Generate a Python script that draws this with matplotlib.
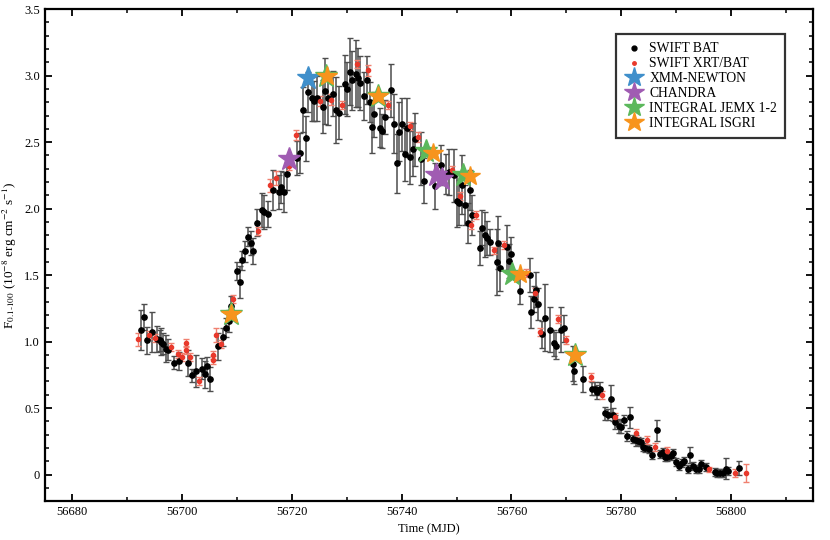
import numpy as np
import matplotlib
matplotlib.use("Agg")
import matplotlib.pyplot as plt
from matplotlib.ticker import MultipleLocator
from matplotlib.lines import Line2D

plt.rcParams['font.family'] = ['Liberation Serif', 'DejaVu Serif']
plt.rcParams['mathtext.fontset'] = 'stix'

# SWIFT BAT (MJD, flux, error)
bat_t = [56692.5, 56693.0, 56693.6, 56694.5, 56695.5, 56695.9, 56696.2, 56696.6, 56697.0, 56697.5,
         56698.6, 56699.5, 56701.0, 56701.9, 56702.5, 56703.6, 56704.1, 56704.5, 56705.1, 56706.5,
         56707.5, 56708.0, 56708.5, 56709.0, 56710.0, 56710.6, 56711.0, 56711.5, 56712.0, 56712.5,
         56713.0, 56713.6, 56714.5, 56715.0, 56715.6, 56716.5, 56717.6, 56718.0, 56718.6, 56719.1,
         56721.0, 56721.5, 56722.1, 56722.5, 56723.0, 56723.6, 56724.1, 56724.5, 56725.6, 56726.0,
         56726.5, 56727.5, 56728.0, 56728.6, 56729.6, 56730.0, 56730.5, 56731.0, 56731.6, 56732.0,
         56732.5, 56733.1, 56733.6, 56734.2, 56734.6, 56735.0, 56736.0, 56736.5, 56737.0, 56738.1,
         56738.6, 56739.1, 56739.6, 56740.0, 56740.6, 56741.0, 56741.5, 56742.1, 56742.5, 56743.5,
         56744.1, 56746.1, 56747.1, 56748.1, 56748.6, 56749.6, 56750.0, 56750.5, 56751.0, 56751.5,
         56752.1, 56752.5, 56752.9, 56754.2, 56754.7, 56755.1, 56755.6, 56756.1, 56757.3, 56757.6,
         56758.0, 56759.1, 56759.6, 56760.0, 56761.5, 56763.3, 56763.6, 56764.1, 56764.5, 56764.9,
         56765.6, 56766.2, 56767.1, 56767.7, 56768.1, 56769.1, 56769.6, 56771.3, 56771.4, 56773.1,
         56774.7, 56775.3, 56775.6, 56776.1, 56777.1, 56777.6, 56778.2, 56778.5, 56778.9, 56779.5,
         56780.0, 56780.5, 56781.0, 56781.6, 56782.1, 56782.7, 56783.1, 56783.6, 56783.9, 56784.4,
         56785.0, 56785.6, 56786.6, 56787.0, 56787.6, 56788.0, 56788.4, 56789.0, 56789.5, 56790.0,
         56790.5, 56791.0, 56791.5, 56792.1, 56792.5, 56793.0, 56793.6, 56794.1, 56794.5, 56795.5,
         56797.0, 56797.5, 56798.0, 56798.5, 56799.1, 56799.5, 56801.5]
bat_f = [1.085, 1.185, 1.01, 1.07, 1.02, 1.01, 1.00, 0.985, 0.947, 0.94,
         0.84, 0.854, 0.84, 0.747, 0.777, 0.797, 0.754, 0.814, 0.72, 0.965,
         1.035, 1.105, 1.155, 1.27, 1.53, 1.45, 1.61, 1.68, 1.79, 1.74,
         1.68, 1.895, 1.99, 1.975, 1.96, 2.14, 2.125, 2.16, 2.125, 2.26,
         2.38, 2.42, 2.745, 2.53, 2.88, 2.83, 2.81, 2.83, 2.765, 2.885,
         2.83, 2.865, 2.74, 2.72, 2.935, 2.90, 3.03, 2.965, 3.015, 2.985,
         2.945, 2.85, 2.965, 2.80, 2.615, 2.71, 2.61, 2.585, 2.69, 2.89,
         2.64, 2.34, 2.58, 2.635, 2.41, 2.61, 2.385, 2.445, 2.52, 2.375,
         2.21, 2.17, 2.33, 2.26, 2.275, 2.25, 2.06, 2.045, 2.18, 2.025,
         1.89, 2.14, 1.955, 1.705, 1.857, 1.805, 1.78, 1.75, 1.60, 1.745,
         1.55, 1.71, 1.605, 1.655, 1.38, 1.50, 1.22, 1.32, 1.39, 1.28,
         1.055, 1.18, 1.09, 0.99, 0.97, 1.09, 1.10, 0.835, 0.78, 0.72,
         0.645, 0.645, 0.62, 0.645, 0.46, 0.45, 0.57, 0.45, 0.395, 0.365,
         0.36, 0.41, 0.29, 0.43, 0.265, 0.258, 0.253, 0.245, 0.207, 0.203,
         0.195, 0.145, 0.333, 0.158, 0.17, 0.132, 0.132, 0.138, 0.165, 0.095,
         0.062, 0.087, 0.102, 0.038, 0.145, 0.062, 0.038, 0.038, 0.077, 0.057,
         0.02, 0.012, 0.012, 0.008, 0.045, 0.025, 0.05]
bat_e = [0.15, 0.10, 0.10, 0.15, 0.10, 0.08, 0.10, 0.08, 0.10, 0.08,
         0.05, 0.07, 0.10, 0.05, 0.12, 0.08, 0.10, 0.07, 0.09, 0.10,
         0.07, 0.07, 0.08, 0.07, 0.07, 0.12, 0.07, 0.08, 0.07, 0.09,
         0.10, 0.10, 0.13, 0.13, 0.10, 0.15, 0.13, 0.12, 0.15, 0.12,
         0.13, 0.15, 0.17, 0.17, 0.15, 0.17, 0.15, 0.17, 0.20, 0.25,
         0.20, 0.17, 0.25, 0.20, 0.22, 0.20, 0.25, 0.22, 0.25, 0.22,
         0.20, 0.18, 0.18, 0.15, 0.20, 0.17, 0.15, 0.13, 0.13, 0.20,
         0.22, 0.22, 0.22, 0.20, 0.20, 0.22, 0.20, 0.20, 0.20, 0.20,
         0.17, 0.17, 0.15, 0.15, 0.17, 0.20, 0.20, 0.17, 0.22, 0.15,
         0.15, 0.15, 0.15, 0.13, 0.13, 0.17, 0.13, 0.10, 0.25, 0.20,
         0.17, 0.17, 0.13, 0.13, 0.10, 0.13, 0.12, 0.10, 0.13, 0.12,
         0.10, 0.25, 0.17, 0.10, 0.10, 0.17, 0.10, 0.13, 0.10, 0.10,
         0.05, 0.05, 0.05, 0.05, 0.05, 0.04, 0.10, 0.05, 0.05, 0.05,
         0.05, 0.04, 0.04, 0.08, 0.03, 0.04, 0.03, 0.03, 0.03, 0.03,
         0.03, 0.03, 0.08, 0.03, 0.03, 0.03, 0.03, 0.03, 0.03, 0.03,
         0.03, 0.03, 0.03, 0.03, 0.06, 0.03, 0.03, 0.03, 0.03, 0.03,
         0.03, 0.03, 0.03, 0.03, 0.08, 0.03, 0.05]

# SWIFT XRT/BAT
xrt_t = [56691.9, 56693.9, 56695.1, 56698.0, 56699.3, 56699.9, 56700.7, 56700.8, 56701.5, 56703.0,
         56705.6, 56705.7, 56706.1, 56707.1, 56709.3, 56713.9, 56716.0, 56717.1, 56719.5, 56720.7,
         56725.1, 56727.1, 56729.1, 56731.8, 56733.9, 56737.5, 56741.5, 56743.0, 56749.2, 56750.7,
         56752.7, 56753.5, 56756.8, 56758.6, 56762.7, 56764.2, 56765.2, 56768.5, 56770.0, 56774.4,
         56776.5, 56778.9, 56782.7, 56784.7, 56786.1, 56788.3, 56796.0, 56800.8, 56802.7]
xrt_f = [1.017, 1.05, 1.03, 0.96, 0.905, 0.885, 0.99, 0.94, 0.885, 0.70,
         0.897, 0.865, 1.05, 0.98, 1.32, 1.83, 2.175, 2.23, 2.32, 2.555,
         2.81, 2.82, 2.78, 3.09, 3.04, 2.78, 2.62, 2.54, 2.29, 2.095,
         1.875, 1.95, 1.685, 1.73, 1.515, 1.365, 1.075, 1.17, 1.015, 0.73,
         0.60, 0.43, 0.31, 0.263, 0.207, 0.177, 0.038, 0.008, 0.012]
xrt_e = [0.05, 0.03, 0.03, 0.03, 0.03, 0.03, 0.03, 0.03, 0.03, 0.03,
         0.03, 0.03, 0.05, 0.03, 0.03, 0.03, 0.05, 0.05, 0.03, 0.04,
         0.04, 0.04, 0.03, 0.03, 0.04, 0.03, 0.03, 0.04, 0.03, 0.03,
         0.03, 0.03, 0.03, 0.03, 0.03, 0.04, 0.03, 0.03, 0.03, 0.03,
         0.03, 0.03, 0.03, 0.03, 0.03, 0.03, 0.02, 0.03, 0.07]

xmm_t = [56722.9]
xmm_f = [2.98]
chandra_t = [56719.5, 56746.2, 56747.4]
chandra_f = [2.375, 2.25, 2.22]
jemx_t = [56708.9, 56726.2, 56735.6, 56744.4, 56751.2, 56760.1, 56771.5]
jemx_f = [1.21, 3.0, 2.85, 2.43, 2.25, 1.505, 0.9]
isgri_t = [56708.9, 56726.4, 56735.7, 56745.7, 56752.4, 56761.5, 56771.6]
isgri_f = [1.21, 2.995, 2.85, 2.42, 2.243, 1.505, 0.897]

c_xrt = '#e8392c'
c_xmm = '#3f8fcb'
c_cha = '#a05cb2'
c_jem = '#5cb85c'
c_isg = '#f7941d'

fig = plt.figure(figsize=(8.3, 5.4), dpi=100)
ax = fig.add_axes([0.054, 0.072, 0.926, 0.911])

ax.errorbar(bat_t, bat_f, yerr=bat_e, fmt='o', color='black', ms=3.8,
            ecolor='0.3', elinewidth=1.1, capsize=2, capthick=1, zorder=3)
ax.errorbar(xrt_t, xrt_f, yerr=xrt_e, fmt='o', color=c_xrt, ms=3.0,
            ecolor='#f08070', elinewidth=1, capsize=2, capthick=1, zorder=3)
ax.plot(xmm_t, xmm_f, '*', color=c_xmm, ms=17, ls='none', zorder=4)
ax.plot(chandra_t, chandra_f, '*', color=c_cha, ms=17, ls='none', zorder=4)
ax.plot(jemx_t, jemx_f, '*', color=c_jem, ms=17, ls='none', zorder=4)
ax.plot(isgri_t, isgri_f, '*', color=c_isg, ms=15, ls='none', zorder=5)

ax.set_xlim(56675, 56815)
ax.set_ylim(-0.2, 3.5)
ax.xaxis.set_major_locator(MultipleLocator(20))
ax.xaxis.set_minor_locator(MultipleLocator(10))
ax.yaxis.set_minor_locator(MultipleLocator(0.1))
ax.set_yticks([0, 0.5, 1, 1.5, 2, 2.5, 3, 3.5])
ax.set_yticklabels(['0', '0.5', '1.0', '1.5', '2.0', '2.5', '3.0', '3.5'])
ax.tick_params(which='both', direction='in', top=True, right=True, labelsize=9)
ax.tick_params(which='major', length=5, width=1.3)
ax.tick_params(which='minor', length=3, width=1.1)
for s in ax.spines.values():
    s.set_linewidth(1.6)

ax.set_xlabel('Time (MJD)', fontsize=9)
ax.xaxis.set_label_coords(0.5, -0.045)
ax.set_ylabel(r'F$_{\rm 0.1\text{-}100}$ (10$^{-8}$ erg cm$^{-2}$ s$^{-1}$)', fontsize=9.5)

handles = [
    Line2D([], [], marker='o', color='black', ms=3.5, ls='none'),
    Line2D([], [], marker='o', color=c_xrt, ms=2.5, ls='none'),
    Line2D([], [], marker='*', color=c_xmm, ms=15, ls='none'),
    Line2D([], [], marker='*', color=c_cha, ms=15, ls='none'),
    Line2D([], [], marker='*', color=c_jem, ms=15, ls='none'),
    Line2D([], [], marker='*', color=c_isg, ms=15, ls='none'),
]
labels = ['SWIFT BAT', 'SWIFT XRT/BAT', 'XMM-NEWTON', 'CHANDRA',
          'INTEGRAL JEMX 1-2', 'INTEGRAL ISGRI']
leg = ax.legend(handles, labels, loc='upper right', bbox_to_anchor=(0.9635, 0.949),
                fontsize=9.8, frameon=True, fancybox=False, edgecolor='black',
                borderpad=0.6, handletextpad=0.45, labelspacing=0.14,
                handlelength=1.4, borderaxespad=0)
leg.get_frame().set_linewidth(1.6)

fig.savefig('out.png', dpi=100)
